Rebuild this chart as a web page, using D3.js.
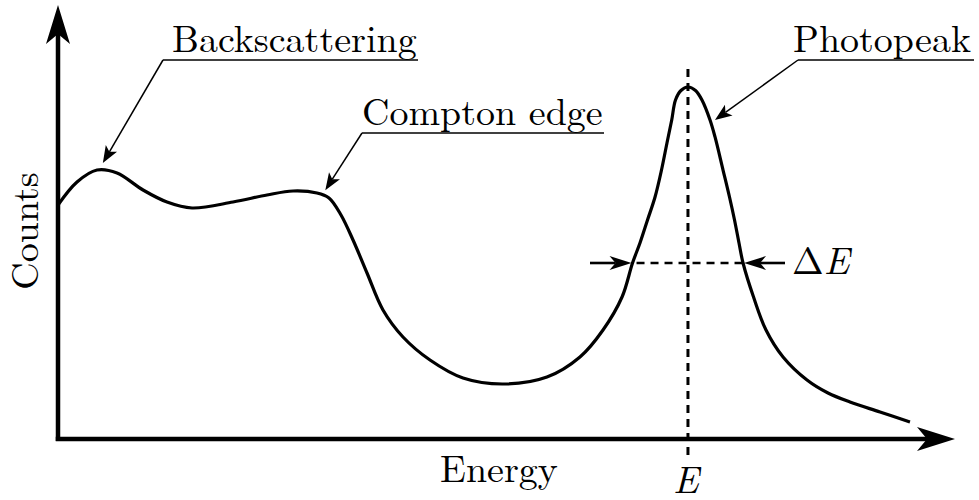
<!DOCTYPE html>
<html>
<head>
<meta charset="utf-8">
<script src="https://cdn.jsdelivr.net/npm/d3@7"></script>
<style>
  html, body { margin: 0; padding: 0; background: #fff; }
  svg { display: block; }
</style>
</head>
<body>
<svg id="chart" width="979" height="500"></svg>
<script>
// Schematic gamma-ray spectrum (arbitrary units)
const energy = [0, 2.12, 4.35, 6.58, 9.48, 12.15, 14.94, 19.51, 23.30, 26.20, 28.87, 30.21, 31.55, 32.89,
  34.45, 36.23, 38.46, 41.47, 45.15, 49.61, 54.51, 58.19, 60.76, 62.88, 64.05, 64.88, 65.72, 66.56, 67.28,
  67.89, 68.42, 68.84, 69.45, 70.23, 71.07, 71.79, 72.69, 73.24, 74.14, 74.86, 75.42, 75.92, 76.37, 77.54,
  78.93, 80.83, 83.50, 85.84, 88.29, 91.64, 94.98];
const counts = [66.48, 73.01, 76.42, 75.57, 70.74, 67.33, 65.63, 67.33, 69.32, 70.45, 69.89, 68.47, 63.64, 56.53,
  47.16, 36.65, 28.98, 22.44, 17.33, 15.63, 17.61, 23.30, 30.97, 40.34, 50.00, 55.68, 62.22, 68.75, 76.42,
  84.09, 90.63, 96.31, 99.01, 100, 99.01, 96.31, 90.63, 85.88, 76.42, 68.75, 62.22, 55.68, 50.00, 40.34,
  30.97, 23.30, 16.76, 13.07, 10.51, 7.67, 4.83];

// Annotated features: label text and the point on the curve it refers to
const labelNames = ["Backscattering", "Compton edge", "Photopeak"];
const labelEnergy = [5.0, 29.8, 73.24];
const labelCounts = [78.4, 70.7, 90.6];

// Photopeak position and its full width at half maximum
const peakEnergy = 70.23;
const halfMax = 50;
const fwhmLow = 64.05;
const fwhmHigh = 76.37;

const axisLabels = { x: "Energy", y: "Counts" };

const FONT = "'Latin Modern Roman', 'Liberation Serif', serif";

const svg = d3.select("#chart");
svg.append("rect").attr("width", 979).attr("height", 500).attr("fill", "#fff");

const x = d3.scaleLinear().domain([0, 100]).range([58, 955]);
const y = d3.scaleLinear().domain([0, 100]).range([439, 87]);
const yTop = y.invert(5);

// Filled arrow head with a concave back, tip at (tx, ty), pointing along angle a
function headPath(tx, ty, a, len, half, notch) {
  const c = Math.cos(a), s = Math.sin(a);
  const p = (u, v) => [tx - u * c - v * s, ty - u * s + v * c];
  const pts = [p(0, 0), p(len, half), p(len - notch, 0), p(len, -half)];
  return "M" + pts.map(q => q.join(",")).join("L") + "Z";
}

function label(xp, yp, str, opts = {}) {
  const t = svg.append("text").attr("x", xp).attr("y", yp)
    .style("font-family", FONT).style("font-size", "38px")
    .style("font-style", opts.italic ? "italic" : "normal")
    .attr("text-anchor", opts.anchor || "start").attr("fill", "#000").text(str);
  if (opts.transform) t.attr("transform", opts.transform);
  return t;
}

// Axes
svg.append("line")
  .attr("x1", x(0)).attr("y1", y(0) + 2).attr("x2", x(0)).attr("y2", y(yTop) + 20)
  .attr("stroke", "#000").attr("stroke-width", 4.5);
svg.append("path").attr("d", headPath(x(0), y(yTop), -Math.PI / 2, 39, 12, 10)).attr("fill", "#000");
svg.append("line")
  .attr("x1", x(0) - 2.25).attr("y1", y(0)).attr("x2", x(100) - 20).attr("y2", y(0))
  .attr("stroke", "#000").attr("stroke-width", 4.5);
svg.append("path").attr("d", headPath(x(100), y(0), 0, 38, 12, 10)).attr("fill", "#000");

// Axis titles
label(499, 482, axisLabels.x, { anchor: "middle" });
label(0, 0, axisLabels.y, { anchor: "middle", transform: "translate(38,231) rotate(-90)" });

// Dashed guides through the photopeak
svg.append("line")
  .attr("x1", x(peakEnergy)).attr("x2", x(peakEnergy)).attr("y1", 69).attr("y2", 458)
  .attr("stroke", "#000").attr("stroke-width", 3).attr("stroke-dasharray", "8,6");
svg.append("line")
  .attr("x1", x(fwhmLow)).attr("x2", x(fwhmHigh)).attr("y1", y(halfMax)).attr("y2", y(halfMax))
  .attr("stroke", "#000").attr("stroke-width", 2.6).attr("stroke-dasharray", "8,6").attr("stroke-dashoffset", -4);

// Spectrum curve
const pts = energy.map((e, i) => [x(e), y(counts[i])]);
svg.append("path")
  .attr("d", d3.line().curve(d3.curveCatmullRom.alpha(0.5))(pts))
  .attr("fill", "none").attr("stroke", "#000").attr("stroke-width", 3.2).attr("stroke-linejoin", "round");

// Arrow with a straight shaft
function arrow(x1, y1, x2, y2, len, half, notch, width) {
  const a = Math.atan2(y2 - y1, x2 - x1);
  svg.append("line").attr("x1", x1).attr("y1", y1)
    .attr("x2", x2 - Math.cos(a) * (len - notch)).attr("y2", y2 - Math.sin(a) * (len - notch))
    .attr("stroke", "#000").attr("stroke-width", width);
  svg.append("path").attr("d", headPath(x2, y2, a, len, half, notch)).attr("fill", "#000");
}
arrow(590, y(halfMax), x(fwhmLow) - 1, y(halfMax), 22, 7, 6, 2.6);
arrow(785, y(halfMax), x(fwhmHigh) + 1, y(halfMax), 22, 7, 6, 2.6);

// ΔE and E labels
const dE = label(792, 274, "");
dE.append("tspan").text("Δ");
dE.append("tspan").style("font-style", "italic").text("E");
label(686, 493, "E", { italic: true, anchor: "middle" });

// Feature labels with underline and leader arrow
const labelLayout = [
  { tx: 172, ty: 52, ux1: 163, ux2: 418, uy: 60 },
  { tx: 362, ty: 125, ux1: 362, ux2: 604, uy: 133 },
  { tx: 971, ty: 52, ux1: 798, ux2: 974, uy: 60, anchor: "end" }
];
labelNames.forEach((name, i) => {
  const L = labelLayout[i];
  label(L.tx, L.ty, name, { anchor: L.anchor });
  svg.append("line").attr("x1", L.ux1).attr("x2", L.ux2).attr("y1", L.uy).attr("y2", L.uy)
    .attr("stroke", "#000").attr("stroke-width", 1.5);
  arrow(L.ux1, L.uy, x(labelEnergy[i]), y(labelCounts[i]), 17, 6.5, 4, 1.5);
});
</script>
</body>
</html>
